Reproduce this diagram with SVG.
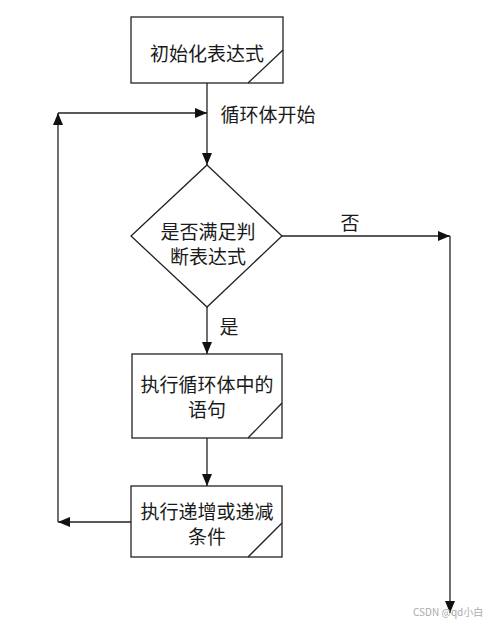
<svg xmlns="http://www.w3.org/2000/svg" width="483" height="628" viewBox="0 0 483 628">
<defs>
<marker id="ah" viewBox="0 0 12 10" refX="12" refY="5" markerWidth="12" markerHeight="10" markerUnits="userSpaceOnUse" orient="auto">
<path d="M0,0 L12,5 L0,10 Z" fill="#111"/>
</marker>
<style>
.shape{fill:#fff;stroke:#222;stroke-width:1.3}
.diag{fill:none;stroke:#222;stroke-width:1.3}
.conn{fill:none;stroke:#222;stroke-width:1.3}
.t{font-family:"Noto Sans CJK SC","Noto Sans",sans-serif;font-size:19px;fill:#1a1a1a;text-anchor:middle;dominant-baseline:central}
.wm{font-family:"Noto Sans CJK SC","Noto Sans",sans-serif;font-size:10px;fill:#aaa}
</style>
</defs>
<rect width="483" height="628" fill="#fff"/>
<g id="connectors">
<line class="conn" x1="207" y1="83" x2="207" y2="165" marker-end="url(#ah)"/>
<line class="conn" x1="58" y1="113" x2="207" y2="113" marker-end="url(#ah)"/>
<line class="conn" x1="58" y1="522" x2="58" y2="113" marker-end="url(#ah)"/>
<line class="conn" x1="131" y1="522" x2="58" y2="522" marker-end="url(#ah)"/>
<line class="conn" x1="282" y1="236" x2="450" y2="236" marker-end="url(#ah)"/>
<line class="conn" x1="450" y1="236" x2="450" y2="613" marker-end="url(#ah)"/>
<line class="conn" x1="207" y1="307" x2="207" y2="354" marker-end="url(#ah)"/>
<line class="conn" x1="207" y1="438" x2="207" y2="486" marker-end="url(#ah)"/>
<text class="t" x="268" y="113">循环体开始</text>
<text class="t" x="350" y="221">否</text>
<text class="t" x="229" y="325">是</text>
</g>
<g id="init">
<rect class="shape" x="131" y="17" width="152" height="66"/>
<line class="diag" x1="248" y1="83" x2="283" y2="50"/>
<text class="t" x="207" y="52">初始化表达式</text>
</g>
<g id="cond">
<polygon class="shape" points="207,165 282,236 207,307 131,236"/>
<text class="t" x="208" y="230">是否满足判</text>
<text class="t" x="208" y="255">断表达式</text>
</g>
<g id="body">
<rect class="shape" x="132" y="354" width="150" height="84"/>
<line class="diag" x1="248" y1="438" x2="282" y2="403"/>
<text class="t" x="207" y="383">执行循环体中的</text>
<text class="t" x="207" y="408">语句</text>
</g>
<g id="update">
<rect class="shape" x="131" y="486" width="151" height="71"/>
<line class="diag" x1="248" y1="557" x2="282" y2="523"/>
<text class="t" x="207" y="510">执行递增或递减</text>
<text class="t" x="207" y="535">条件</text>
</g>
<text class="wm" x="413" y="616">CSDN @qd小白</text>
</svg>
